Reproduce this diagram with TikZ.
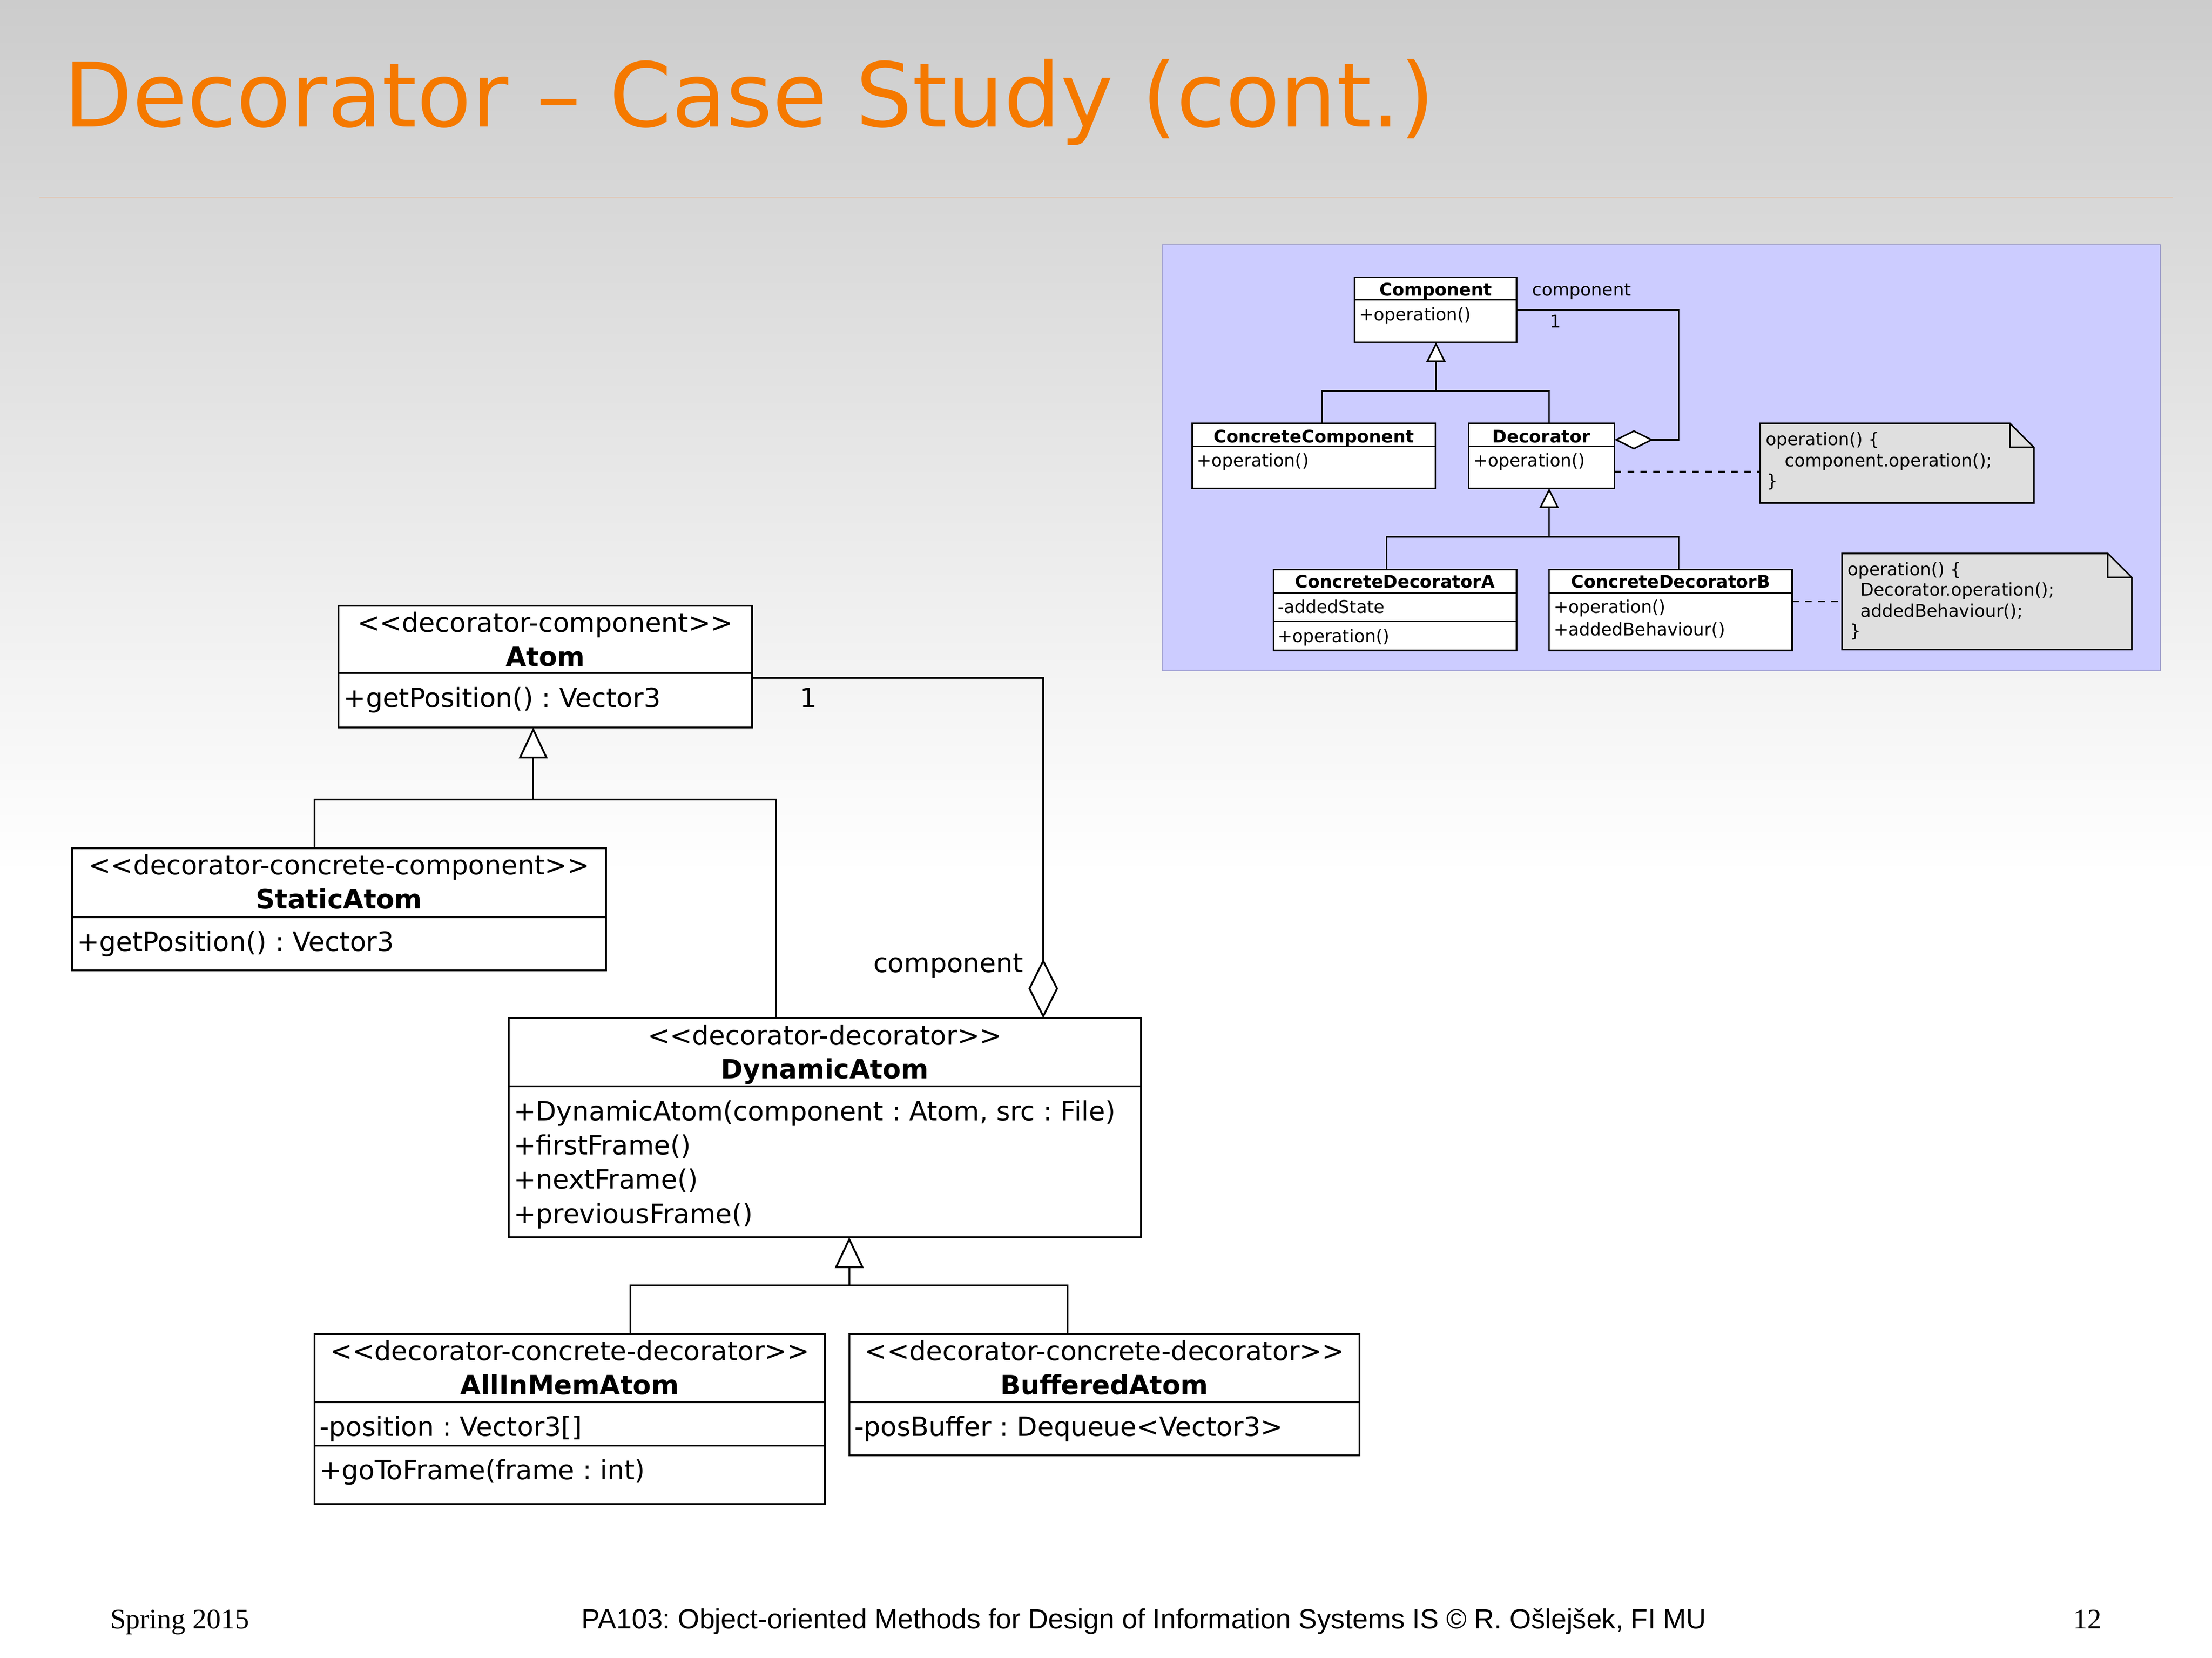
\documentclass[tikz,border=0pt]{standalone}
\usepackage{fontspec}
\usetikzlibrary{arrows.meta}
\newfontfamily\dvfont{DejaVu Sans}
\newfontfamily\lsans{Liberation Sans}
\newfontfamily\lserif{Liberation Serif}
\definecolor{titleorange}{RGB}{245,121,0}
\definecolor{rulecol}{RGB}{232,185,150}
\definecolor{insetbg}{RGB}{204,204,255}
\definecolor{insetframe}{RGB}{150,150,200}
\definecolor{notefill}{RGB}{223,223,223}
\tikzset{
  mbox/.style={draw, line width=1.3pt, fill=white, inner sep=0pt, outer sep=0pt, anchor=north west},
  ibox/.style={draw, line width=1.1pt, fill=white, inner sep=0pt, outer sep=0pt, anchor=north west},
  notebg/.style={inner sep=0pt, outer sep=0pt, anchor=north west},
  notest/.style={line width=1.1pt, fill=notefill, line join=miter},
  mline/.style={line width=1.3pt},
  iline/.style={line width=1.1pt},
  idash/.style={line width=1.1pt, dash pattern=on 4.7pt off 4.5pt},
  mtxt/.style={inner sep=0pt, font=\dvfont\fontsize{18.8}{22}\selectfont\frenchspacing},
  mname/.style={inner sep=0pt, font=\dvfont\fontsize{18.8}{22}\selectfont\bfseries\frenchspacing},
  itxt/.style={inner sep=0pt, font=\dvfont\fontsize{12.35}{14.7}\selectfont\frenchspacing},
  iname/.style={inner sep=0pt, font=\dvfont\fontsize{12.35}{14.7}\selectfont\bfseries\frenchspacing},
  mgen/.style={-{Triangle[fill=white,length=22pt,width=20.4pt]}},
  igen/.style={-{Triangle[fill=white,length=14pt,width=13.7pt]}},
  magg/.style={-{Diamond[fill=white,length=42pt,width=21pt]}},
  iagg/.style={-{Diamond[fill=white,length=27.6pt,width=13.7pt]}},
  foot/.style={inner sep=0pt}
}
\newcommand\UMLbox[6]{\node[#1,minimum width={#5-#3},minimum height={#6-#4}] (#2) at (#3,#4) {};}
\newcommand\UMLdiv[3]{\draw[#1] (#2.west |- 0,#3) -- (#2.east |- 0,#3);}
\begin{document}
\frenchspacing
\begin{tikzpicture}[x=1pt,y=-1pt]
\useasboundingbox (0,0) rectangle (1568,1175.05);
% background
\shade[top color=black!20, bottom color=white] (0,0) rectangle (1568,620);
\fill[white] (0,619.5) rectangle (1568,1175.05);
% title
\node[anchor=base west, inner sep=0pt, text=titleorange, font=\dvfont\fontsize{63.2}{70}\selectfont] (title) at (45,90) {Decorator – Case Study (cont.)};
\draw[rulecol, line width=0.6pt] (28,139.7) -- (1540,139.7);

% ================= inset =================
\filldraw[fill=insetbg, draw=insetframe, line width=0.5pt] (824,173.2) rectangle (1531.2,475.4);

\UMLbox{ibox}{comp}{960.3}{196.4}{1075}{242.6}
\UMLdiv{iline}{comp}{212.5}
\UMLbox{ibox}{ccomp}{845.1}{300.1}{1017.4}{346}
\UMLdiv{iline}{ccomp}{316.2}
\UMLbox{ibox}{deco}{1041}{300.1}{1144.4}{346}
\UMLdiv{iline}{deco}{316.2}
\UMLbox{ibox}{cda}{902.7}{403.7}{1075}{461}
\UMLdiv{iline}{cda}{420.2}
\UMLdiv{iline}{cda}{440.4}
\UMLbox{ibox}{cdb}{1098.1}{403.7}{1270.4}{461}
\UMLdiv{iline}{cdb}{420.2}

\node[iname, anchor=base] (comp-n) at (1017.65,209.6) {Component};
\node[itxt, anchor=base west] (comp-o) at (963.3,227.2) {+operation()};
\node[iname, anchor=base] (ccomp-n) at (931.25,313.7) {ConcreteComponent};
\node[itxt, anchor=base west] (ccomp-o) at (848.3,330.8) {+operation()};
\node[iname, anchor=base] (deco-n) at (1092.7,313.7) {Decorator};
\node[itxt, anchor=base west] (deco-o) at (1044.2,330.8) {+operation()};
\node[iname, anchor=base] (cda-n) at (988.85,416.7) {ConcreteDecoratorA};
\node[itxt, anchor=base west] (cda-a) at (905.5,434.5) {-addedState};
\node[itxt, anchor=base west] (cda-o) at (905.5,455.1) {+operation()};
\node[iname, anchor=base] (cdb-n) at (1184.25,416.7) {ConcreteDecoratorB};
\node[itxt, anchor=base west] (cdb-o) at (1101.3,434.5) {+operation()};
\node[itxt, anchor=base west] (cdb-b) at (1101.3,450.6) {+addedBehaviour()};

% inset generalizations
\coordinate (ig1) at (1017.9,277);
\coordinate (ig1l) at (937.2,277);
\coordinate (ig1r) at (1098.1,277);
\draw[iline] (ig1l |- ccomp.north) -- (ig1l) -- (ig1r) -- (ig1r |- deco.north);
\draw[iline, igen] (ig1) -- (ig1 |- comp.south);
\coordinate (ig2) at (1098.1,380.4);
\coordinate (ig2l) at (983,380.4);
\coordinate (ig2r) at (1190,380.4);
\draw[iline] (ig2l |- cda.north) -- (ig2l) -- (ig2r) -- (ig2r |- cdb.north);
\draw[iline, igen] (ig2) -- (ig2 |- deco.south);
% inset aggregation
\coordinate (ia1) at (1190,219.8);
\coordinate (ia2) at (1190,311.7);
\draw[iline, iagg] (comp.east |- ia1) -- (ia1) -- (ia2) -- (deco.east |- ia2);
\node[itxt, anchor=base west] (icomp) at (1086,209.6) {component};
\node[itxt, anchor=base] (ione) at (1102.7,232.2) {1};

% notes
\UMLbox{notebg}{note1}{1247.7}{300.1}{1441.8}{356.5}
\draw[notest] (note1.south west) -- (note1.north west) -- ([xshift=-17pt]note1.north east) -- ([yshift=-17pt]note1.north east) -- (note1.south east) -- cycle;
\draw[iline] ([xshift=-17pt]note1.north east) -- ([xshift=-17pt,yshift=-17pt]note1.north east) -- ([yshift=-17pt]note1.north east);
\node[itxt, anchor=base west] (n1a) at (1251.4,315.5) {operation() \{};
\node[itxt, anchor=base west] (n1b) at (1265,330.6) {component.operation();};
\node[itxt, anchor=base west] (n1c) at (1252,345) {\}};

\UMLbox{notebg}{note2}{1305.8}{392.3}{1511.2}{460.3}
\draw[notest] (note2.south west) -- (note2.north west) -- ([xshift=-17pt]note2.north east) -- ([yshift=-17pt]note2.north east) -- (note2.south east) -- cycle;
\draw[iline] ([xshift=-17pt]note2.north east) -- ([xshift=-17pt,yshift=-17pt]note2.north east) -- ([yshift=-17pt]note2.north east);
\node[itxt, anchor=base west] (n2a) at (1309.4,407.9) {operation() \{};
\node[itxt, anchor=base west] (n2b) at (1318.5,422.4) {Decorator.operation();};
\node[itxt, anchor=base west] (n2c) at (1318.5,437.3) {addedBehaviour();};
\node[itxt, anchor=base west] (n2d) at (1311,451.5) {\}};

\coordinate (dl1) at (1190,334.3);
\draw[idash] (deco.east |- dl1) -- (note1.west |- dl1);
\coordinate (dl2) at (1290,426.4);
\draw[idash] (cdb.east |- dl2) -- (note2.west |- dl2);

% ================= main diagram =================
\UMLbox{mbox}{atom}{240}{429.2}{533}{515.5}
\UMLdiv{mline}{atom}{477}
\UMLbox{mbox}{static}{51}{601}{429.7}{687.6}
\UMLdiv{mline}{static}{650}
\UMLbox{mbox}{dyn}{360.6}{721.6}{808.7}{876.7}
\UMLdiv{mline}{dyn}{769.9}
\UMLbox{mbox}{allin}{222.9}{945.4}{584.7}{1066}
\UMLdiv{mline}{allin}{993.9}
\UMLdiv{mline}{allin}{1024.5}
\UMLbox{mbox}{buff}{602}{945.4}{963.8}{1031.5}
\UMLdiv{mline}{buff}{993.9}

\node[mtxt, anchor=base] (atom-s) at (386.5,448) {<<decorator-component>>};
\node[mname, anchor=base] (atom-n) at (386.5,472.1) {Atom};
\node[mtxt, anchor=base west] (atom-o) at (243.4,501.3) {+getPosition() : Vector3};

\node[mtxt, anchor=base] (static-s) at (240.35,619.8) {<<decorator-concrete-component>>};
\node[mname, anchor=base] (static-n) at (240.35,643.9) {StaticAtom};
\node[mtxt, anchor=base west] (static-o) at (54.4,674) {+getPosition() : Vector3};

\node[mtxt, anchor=base] (dyn-s) at (584.65,740.4) {<<decorator-decorator>>};
\node[mname, anchor=base] (dyn-n) at (584.65,764.5) {DynamicAtom};
\node[mtxt, anchor=base west] (dyn-o1) at (364,794.2) {+DynamicAtom(component : Atom, src : File)};
\node[mtxt, anchor=base west] (dyn-o2) at (364,818.4) {+firstFrame()};
\node[mtxt, anchor=base west] (dyn-o3) at (364,842.6) {+nextFrame()};
\node[mtxt, anchor=base west] (dyn-o4) at (364,866.8) {+previousFrame()};

\node[mtxt, anchor=base] (allin-s) at (403.8,964.2) {<<decorator-concrete-decorator>>};
\node[mname, anchor=base] (allin-n) at (403.8,988.3) {AllInMemAtom};
\node[mtxt, anchor=base west] (allin-a) at (226.3,1017.9) {-position : Vector3[]};
\node[mtxt, anchor=base west] (allin-o) at (226.3,1048.5) {+goToFrame(frame : int)};

\node[mtxt, anchor=base] (buff-s) at (782.9,964.2) {<<decorator-concrete-decorator>>};
\node[mname, anchor=base] (buff-n) at (782.9,988.3) {BufferedAtom};
\node[mtxt, anchor=base west] (buff-a) at (605.4,1017.9) {-posBuffer : Dequeue<Vector3>};

% generalization Atom
\coordinate (g1) at (378,566.7);
\coordinate (g1l) at (223,566.7);
\coordinate (g1r) at (550,566.7);
\draw[mline] (g1l |- static.north) -- (g1l) -- (g1r) -- (g1r |- dyn.north);
\draw[mline, mgen] (g1) -- (g1 |- atom.south);
% aggregation
\coordinate (a1) at (739.5,480.5);
\draw[mline, magg] (atom.east |- a1) -- (a1) -- (a1 |- dyn.north);
\node[mtxt, anchor=base] (mone) at (573,501.3) {1};
\node[mtxt, anchor=base east] (mcomp) at (725.6,689) {component};
% generalization DynamicAtom
\coordinate (g2) at (602,911);
\coordinate (g2l) at (447,911);
\coordinate (g2r) at (756.8,911);
\draw[mline] (g2l |- allin.north) -- (g2l) -- (g2r) -- (g2r |- buff.north);
\draw[mline, mgen] (g2) -- (g2 |- dyn.south);

% footer
\node[foot, anchor=base west, font=\lserif\fontsize{20}{24}\selectfont] (f1) at (78,1154.2) {Spring 2015};
\node[foot, anchor=base, font=\lsans\fontsize{19.6}{24}\selectfont] (f2) at (811,1154.2) {PA103: Object-oriented Methods for Design of Information Systems IS © R. Ošlejšek, FI MU};
\node[foot, anchor=base east, font=\lserif\fontsize{20}{24}\selectfont] (f3) at (1490,1154.2) {12};
\end{tikzpicture}
\end{document}
